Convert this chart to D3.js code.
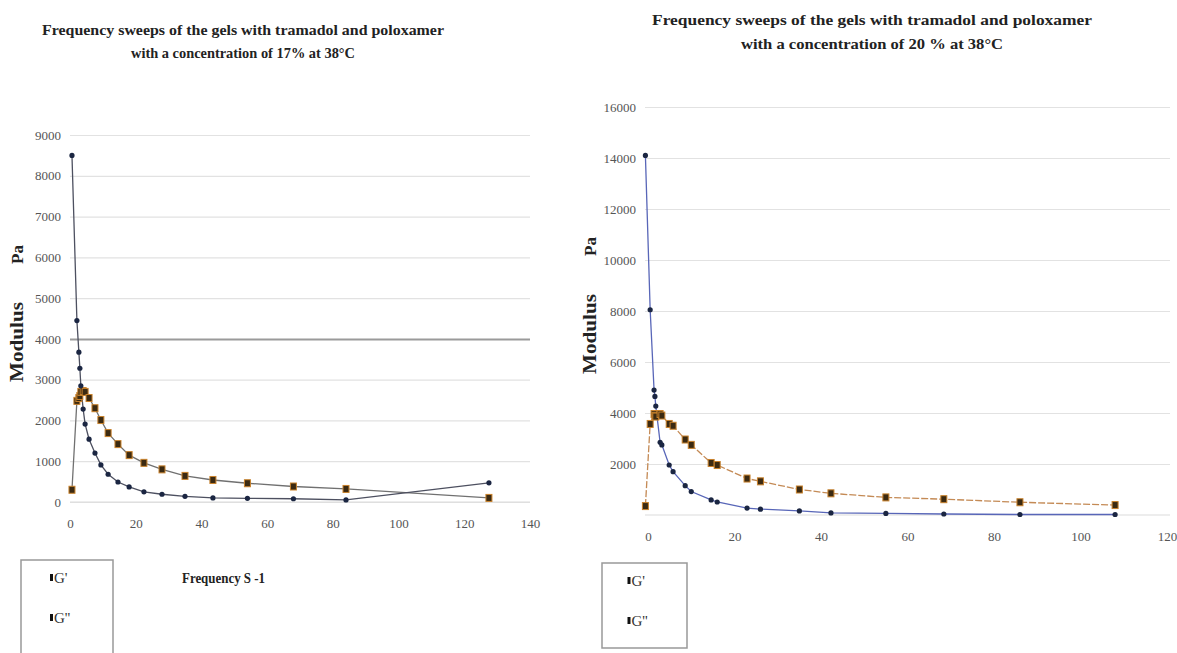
<!DOCTYPE html>
<html>
<head>
<meta charset="utf-8">
<script src="https://cdn.jsdelivr.net/npm/d3@7"></script>
<style>
  body { margin: 0; background: #fff; }
  svg { display: block; }
  .tick text { font-family: "Liberation Serif", "Times New Roman", serif; font-size: 13px; fill: #555; }
  .ttl { font-family: "Liberation Serif", "Times New Roman", serif; font-weight: bold; font-size: 15px; fill: #222; }
</style>
</head>
<body>
<svg id="chart" width="1177" height="653"></svg>
<script>
// chart 1 : poloxamer 17%
var freq17 = [0.6, 2.1, 2.7, 3.0, 3.3, 4.0, 4.6, 5.8, 7.6, 9.4, 11.6, 14.6, 18, 22.5, 28, 35, 43.5, 54, 68, 84, 127.5];
var gPrime17 = [8500, 4450, 3675, 3280, 2850, 2280, 1910, 1540, 1200, 910, 680, 490, 370, 250, 190, 140, 100, 90, 80, 50, 470];
var gDouble17 = [300, 2480, 2550, 2600, 2700, 2720, 2700, 2550, 2300, 2010, 1690, 1420, 1150, 960, 800, 640, 540, 460, 380, 320, 100];
var xTicks17 = [0, 20, 40, 60, 80, 100, 120, 140];
var yTicks17 = [0, 1000, 2000, 3000, 4000, 5000, 6000, 7000, 8000, 9000];

// chart 2 : poloxamer 20%
var freq20 = [-0.6, 0.5, 1.4, 1.6, 1.8, 2.8, 3.2, 4.9, 5.8, 8.6, 10, 14.6, 16, 22.9, 26, 35, 42.3, 55, 68.4, 86, 108];
var gPrime20 = [14100, 8050, 4900, 4650, 4270, 2850, 2750, 1960, 1700, 1150, 920, 590, 510, 270, 230, 160, 80, 60, 40, 20, 20];
var gDouble20 = [350, 3570, 3960, 3890, 3860, 3960, 3900, 3570, 3500, 2960, 2750, 2040, 1960, 1430, 1320, 1000, 850, 690, 620, 500, 390];
var xTicks20 = [0, 20, 40, 60, 80, 100, 120];
var yTicks20 = [2000, 4000, 6000, 8000, 10000, 12000, 14000, 16000];

var seriesNames = ["G'", "G''"];

var svg = d3.select("#chart");

function drawChart(o) {
    var x = d3.scaleLinear().domain(o.xDomain).range(o.xRange);
    var y = d3.scaleLinear().domain(o.yDomain).range(o.yRange);
    var g = svg.append("g");

    // horizontal grid + y labels
    var yAxis = g.append("g")
        .attr("transform", "translate(" + o.gridLeft + ",0)")
        .call(d3.axisLeft(y).tickValues(o.yTicks).tickSize(-(o.gridRight - o.gridLeft)).tickPadding(9).tickFormat(d3.format("d")));
    yAxis.select(".domain").remove();
    yAxis.selectAll(".tick line").attr("stroke", "#e2e2e2").attr("stroke-width", 1.2);
    if (o.darkTick != null) {
        yAxis.selectAll(".tick").filter(function(d){ return d === o.darkTick; })
            .select("line").attr("stroke", "#9a9a9a").attr("stroke-width", 2);
    }
    // baseline
    g.append("line")
        .attr("x1", o.gridLeft).attr("x2", o.gridRight)
        .attr("y1", y(0)).attr("y2", y(0))
        .attr("stroke", "#dcdcdc").attr("stroke-width", 1.2);

    var xAxis = g.append("g")
        .attr("transform", "translate(0," + (y(0) + 8) + ")")
        .call(d3.axisBottom(x).tickValues(o.xTicks).tickSize(0).tickPadding(9));
    xAxis.select(".domain").remove();

    var line = d3.line().x(function(d){ return x(d[0]); }).y(function(d){ return y(d[1]); });
    var p1 = d3.zip(o.freq, o.g1);
    var p2 = d3.zip(o.freq, o.g2);

    g.append("path").datum(p2).attr("d", line).attr("fill", "none")
        .attr("stroke", o.line2).attr("stroke-width", 1.3).attr("stroke-dasharray", o.dash2);
    g.append("path").datum(p1).attr("d", line).attr("fill", "none")
        .attr("stroke", o.line1).attr("stroke-width", 1.3);

    g.selectAll(".sq").data(p2).enter().append("rect")
        .attr("x", function(d){ return x(d[0]) - 3; })
        .attr("y", function(d){ return y(d[1]) - 3.5; })
        .attr("width", 6).attr("height", 7)
        .attr("fill", "#3b2a12").attr("stroke", "#c9822c").attr("stroke-width", 1);
    g.selectAll(".dot").data(p1).enter().append("circle")
        .attr("cx", function(d){ return x(d[0]); })
        .attr("cy", function(d){ return y(d[1]); })
        .attr("r", 2.6).attr("fill", "#1b2642");

    // titles
    o.title.forEach(function(t, i){
        g.append("text").attr("class", "ttl")
            .attr("x", o.titleX).attr("y", o.titleY[i])
            .attr("text-anchor", "middle")
            .attr("textLength", o.titleW[i]).attr("lengthAdjust", "spacingAndGlyphs")
            .text(t);
    });

    // y axis title: "Modulus" and "Pa" with a gap
    g.append("text").attr("class", "ttl")
        .attr("transform", "translate(" + o.yTitleX + "," + o.yTitleY + ") rotate(-90)")
        .style("font-size", "18px")
        .attr("textLength", 80).attr("lengthAdjust", "spacingAndGlyphs")
        .text("Modulus");
    g.append("text").attr("class", "ttl")
        .attr("transform", "translate(" + o.yTitleX + "," + (o.yTitleY - 118) + ") rotate(-90)")
        .style("font-size", "17px")
        .text("Pa");

    // legend
    g.append("rect").attr("x", o.legX).attr("y", o.legY).attr("width", o.legW).attr("height", o.legH)
        .attr("fill", "#fff").attr("stroke", "#999").attr("stroke-width", 1.5);
    seriesNames.forEach(function(s, i){
        var ly = o.legY + 19 + i * 40;
        g.append("rect").attr("x", o.legX + o.legW / 2 - 17).attr("y", ly - 5).attr("width", 3).attr("height", 7).attr("fill", "#111");
        g.append("text").attr("x", o.legX + o.legW / 2 - 13).attr("y", ly + 4)
            .style("font-family", "Liberation Serif, serif").style("font-size", "15px").attr("fill", "#333")
            .text(s);
    });

    if (o.xTitle) {
        g.append("text").attr("class", "ttl").attr("x", o.xTitleX).attr("y", o.xTitleY)
            .style("font-size", "14px").attr("textLength", 83).attr("lengthAdjust", "spacingAndGlyphs")
            .text(o.xTitle);
    }
}

drawChart({
    freq: freq17, g1: gPrime17, g2: gDouble17,
    xDomain: [0, 140], xRange: [70, 530], yDomain: [0, 9000], yRange: [502, 135],
    xTicks: xTicks17, yTicks: yTicks17, gridLeft: 70, gridRight: 530, darkTick: 4000,
    line1: "#4d5060", line2: "#707070", dash2: null,
    title: ["Frequency sweeps of the  gels  with tramadol and poloxamer", "with a concentration of 17% at 38\u00B0C"],
    titleX: 243, titleY: [35, 58], titleW: [402, 224],
    yTitleX: 23, yTitleY: 382,
    legX: 21, legY: 560, legW: 92, legH: 100,
    xTitle: "Frequency S -1", xTitleX: 182, xTitleY: 583
});

drawChart({
    freq: freq20, g1: gPrime20, g2: gDouble20,
    xDomain: [0, 120], xRange: [648, 1167], yDomain: [0, 16000], yRange: [515, 107],
    xTicks: xTicks20, yTicks: yTicks20, gridLeft: 645, gridRight: 1170, darkTick: null,
    line1: "#5866b8", line2: "#c48a55", dash2: "7,2",
    title: ["Frequency sweeps of the  gels  with tramadol and poloxamer", "with a concentration of 20 % at 38\u00B0C"],
    titleX: 872, titleY: [25, 49], titleW: [440, 262],
    yTitleX: 596, yTitleY: 374,
    legX: 602, legY: 563, legW: 85, legH: 85,
    xTitle: null
});
</script>
</body>
</html>
